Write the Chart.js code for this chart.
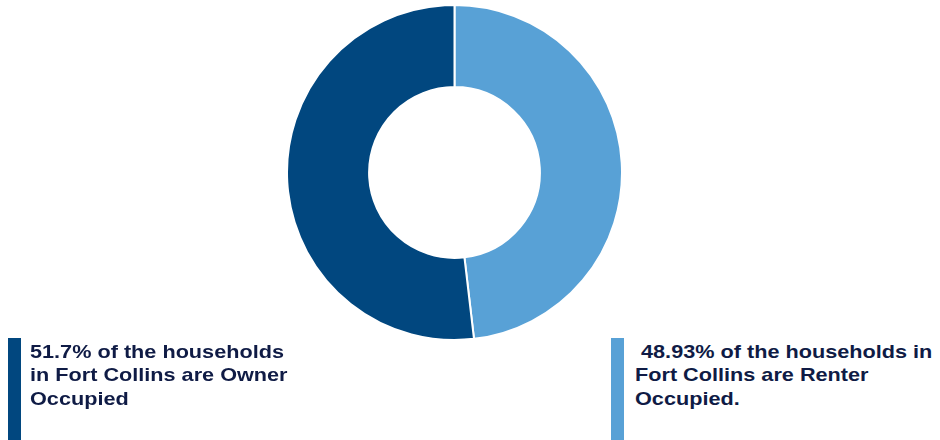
<!DOCTYPE html>
<html>
<head>
<meta charset="utf-8">
<script src="https://cdn.jsdelivr.net/npm/chart.js@4.4.1/dist/chart.umd.min.js"></script>
<style>
    body { margin: 0; width: 940px; height: 440px; background: #fff; position: relative; overflow: hidden; font-family: "Liberation Sans", Arial, sans-serif; }
    #wrap { position: absolute; left: 286px; top: 4px; width: 337px; height: 337px; }
    .note { position: absolute; top: 338px; height: 102px; }
    .bar { position: absolute; left: 0; top: 0; width: 13px; height: 102px; }
    .txt { position: absolute; top: 1.5px; font-weight: bold; font-size: 19px; line-height: 23.5px; color: #0f1b45; white-space: pre; transform: scaleX(1.14); transform-origin: 0 0; }
</style>
</head>
<body>
<div id="wrap"><canvas id="myChart"></canvas></div>

<div class="note" style="left: 8px;">
    <div class="bar" style="background: #01477f;"></div>
    <div class="txt" id="ownerText" style="left: 22px;"></div>
</div>
<div class="note" style="left: 611px;">
    <div class="bar" style="background: #58a1d6;"></div>
    <div class="txt" id="renterText" style="left: 24px;"></div>
</div>

<script>
// valores (a fatia do arrendamento é um pouco menor do que o texto diz)
var labels = ["Renter Occupied", "Owner Occupied"];
var valores = [48.0, 51.7];
var cores = ["#58a1d6", "#01477f"];

var ownerLinhas = ["51.7% of the households", "in Fort Collins are Owner", "Occupied"];
var renterLinhas = [" 48.93% of the households in", "Fort Collins are Renter", "Occupied."];

window.onload = function () {

    document.getElementById("ownerText").textContent = ownerLinhas.join("\n");
    document.getElementById("renterText").textContent = renterLinhas.join("\n");

    var ctx = document.getElementById('myChart').getContext('2d');
    var myChart = new Chart(ctx, {
        type: 'doughnut',
        data: {
            labels: labels,
            datasets: [{
                data: valores,
                backgroundColor: cores,
                borderColor: '#ffffff',
                borderWidth: 2,
                hoverOffset: 0
            }]
        },
        options: {
            responsive: true,
            maintainAspectRatio: false,
            animation: false,
            cutout: '51%',
            layout: { padding: 0 },
            plugins: {
                legend: { display: false },
                tooltip: { enabled: false }
            }
        }
    });

}
</script>
</body>
</html>
